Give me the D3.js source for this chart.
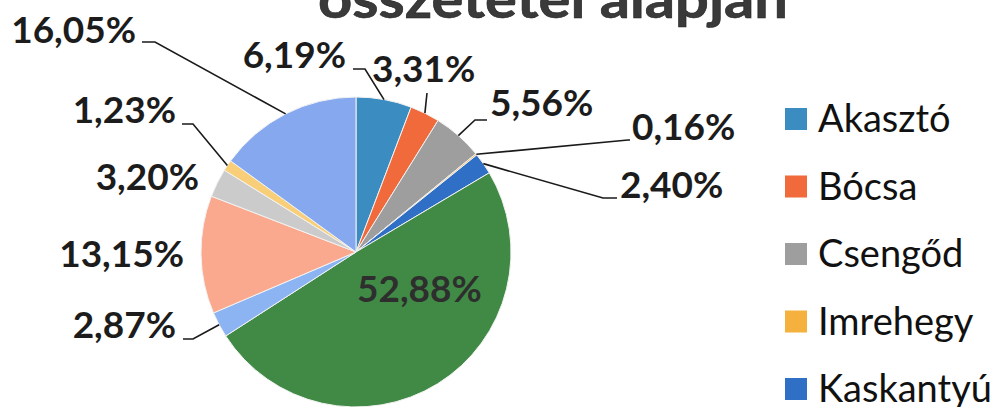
<!DOCTYPE html>
<html>
<head>
<meta charset="utf-8">
<script src="https://cdnjs.cloudflare.com/ajax/libs/d3/7.8.5/d3.min.js"></script>
<style>
  html, body { margin: 0; padding: 0; background: #fff; }
  svg { display: block; }
</style>
</head>
<body>
<svg id="chart" width="993" height="407"></svg>
<script>
// slice values, clockwise from 12 o'clock (as printed on the chart)
const values = [6.19, 3.31, 5.56, 0.16, 2.40, 52.88, 2.87, 13.15, 3.20, 1.23, 16.05];
const labels = ["6,19%", "3,31%", "5,56%", "0,16%", "2,40%", "52,88%", "2,87%", "13,15%", "3,20%", "1,23%", "16,05%"];
// only the first five legend entries are visible in the picture
const legendNames = ["Akasztó", "Bócsa", "Csengőd", "Imrehegy", "Kaskantyú"];
const colors = ["#3b8cc0", "#f06a3c", "#9e9e9e", "#f5b13e", "#2f6fc6", "#408a45",
                "#8cb4f2", "#fba98e", "#cbcbcb", "#f8cf78", "#86a8ee"];
const title = "összetétel alapján";

// label layout: x, baseline y, text-anchor, leader (x0,y0 -> elbow x1 -> slice edge)
const labelLayout = [
  {x: 346, y: 68,  anchor: "end",   leader: [353, 69, 365]},
  {x: 372, y: 82,  anchor: "start", leader: [427, 93, 427]},
  {x: 490, y: 116, anchor: "start", leader: [487, 120, 475]},
  {x: 632, y: 140, anchor: "start", leader: [630, 140, 628]},
  {x: 620, y: 198, anchor: "start", leader: [617, 198, 603]},
  {x: 357, y: 302, anchor: "start", leader: null, inside: true},
  {x: 176, y: 338, anchor: "end",   leader: [183, 339, 193]},
  {x: 184, y: 267, anchor: "end",   leader: null},
  {x: 199, y: 190, anchor: "end",   leader: null},
  {x: 176, y: 123, anchor: "end",   leader: [182, 124, 193]},
  {x: 136, y: 43,  anchor: "end",   leader: [142, 42, 155]}
];

var svg = d3.select("#chart");
var cx = 356, cy = 252, radius = 155;

var pie = d3.pie().sort(null).value(function(d) { return d; });
var arc = d3.arc().innerRadius(0).outerRadius(radius);
var arcs = pie(values);

var g = svg.append("g")
    .attr("transform", "translate(" + cx + "," + cy + ")");

g.selectAll("path.slice")
    .data(arcs)
  .enter().append("path")
    .attr("class", "slice")
    .attr("d", arc)
    .attr("fill", function(d, i) { return colors[i]; })
    .attr("stroke", "#f2f2f2")
    .attr("stroke-width", 1);

// title (only its lower half is inside the picture)
svg.append("text")
    .attr("x", 318)
    .attr("y", 18)
    .attr("textLength", 470)
    .attr("lengthAdjust", "spacingAndGlyphs")
    .attr("font-family", "Lato, sans-serif")
    .attr("font-weight", "bold")
    .attr("font-size", 54)
    .attr("fill", "#3a3a3a")
    .attr("stroke", "#222")
    .attr("stroke-width", 0.6)
    .text(title);

// leader lines
arcs.forEach(function(d, i) {
  var L = labelLayout[i];
  if (!L.leader) return;
  var mid = (d.startAngle + d.endAngle) / 2;
  var ex = cx + radius * Math.sin(mid),
      ey = cy - radius * Math.cos(mid);
  var pts = [[L.leader[0], L.leader[1]], [L.leader[2], L.leader[1]], [ex, ey]];
  svg.append("path")
      .attr("d", d3.line()(pts))
      .attr("fill", "none")
      .attr("stroke", "#1a1a1a")
      .attr("stroke-width", 1.6);
});

// data labels
svg.selectAll("text.lbl")
    .data(arcs)
  .enter().append("text")
    .attr("class", "lbl")
    .attr("x", function(d, i) { return labelLayout[i].x; })
    .attr("y", function(d, i) { return labelLayout[i].y; })
    .attr("text-anchor", function(d, i) { return labelLayout[i].anchor; })
    .attr("font-family", "Lato, sans-serif")
    .attr("font-weight", "bold")
    .attr("font-size", 37)
    .attr("fill", function(d, i) { return labelLayout[i].inside ? "#2e2e2e" : "#1c1c1c"; })
    .text(function(d, i) { return labels[i]; });

// legend
var legend = svg.append("g").attr("class", "legend");
var rowY = d3.scalePoint().domain(d3.range(legendNames.length)).range([119, 389]);

legendNames.forEach(function(name, i) {
  legend.append("rect")
      .attr("x", 785)
      .attr("y", rowY(i) - 11)
      .attr("width", 22)
      .attr("height", 22)
      .attr("fill", colors[i]);
  legend.append("text")
      .attr("x", 818)
      .attr("y", rowY(i) + 13)
      .attr("font-family", "Lato, sans-serif")
      .attr("font-size", 38)
      .attr("fill", "#111")
      .text(name);
});
</script>
</body>
</html>
